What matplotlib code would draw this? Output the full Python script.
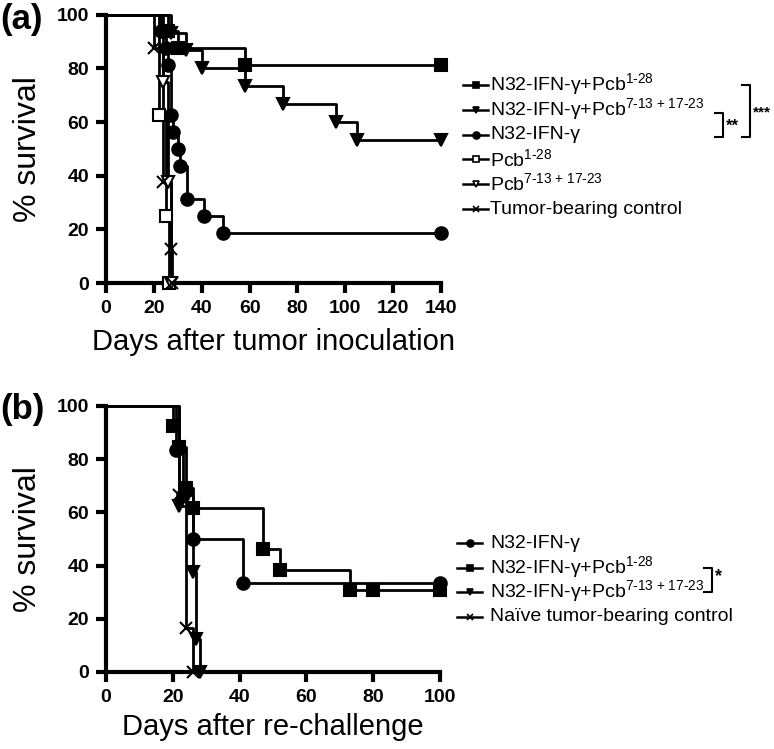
import numpy as np
import matplotlib.pyplot as plt
from matplotlib.lines import Line2D

plt.rcParams['font.family'] = ['Liberation Sans', 'DejaVu Sans']
plt.rcParams['mathtext.fontset'] = 'custom'
plt.rcParams['mathtext.rm'] = 'Liberation Sans'
plt.rcParams['mathtext.bf'] = 'Liberation Sans:bold'

W, H = 774, 749

# =================================
# Panel (a) data: days after tumor inoculation vs % survival
# =================================
a_labels = ["N32-IFN-\u03b3+Pcb$^{\\text{1-28}}$",
            "N32-IFN-\u03b3+Pcb$^{\\text{7-13 + 17-23}}$",
            "N32-IFN-\u03b3",
            "Pcb$^{\\text{1-28}}$",
            "Pcb$^{\\text{7-13 + 17-23}}$",
            "Tumor-bearing control"]
a_sq_t = [0, 26, 30, 58, 140]
a_sq_s = [100, 93.75, 87.5, 81.25, 81.25]
a_tri_t = [0, 27, 33.5, 40, 58, 74, 96, 105, 140]
a_tri_s = [100, 93.3, 86.7, 80, 73.3, 66.7, 60, 53.3, 53.3]
a_ci_t = [0, 23, 25, 26, 27, 28, 30, 31, 34, 41, 49, 140]
a_ci_s = [100, 93.75, 87.5, 81.25, 62.5, 56.25, 50, 43.75, 31.25, 25, 18.75, 18.75]
a_osq_t = [0, 22, 25, 26.5]
a_osq_s = [100, 62.5, 25, 0]
a_otri_t = [0, 24, 26, 27]
a_otri_s = [100, 75, 37.5, 0]
a_x_t = [0, 20, 24, 27, 27.5]
a_x_s = [100, 87.5, 37.5, 12.5, 0]

# =================================
# Panel (b) data: days after re-challenge vs % survival
# =================================
b_labels = ["N32-IFN-\u03b3",
            "N32-IFN-\u03b3+Pcb$^{\\text{1-28}}$",
            "N32-IFN-\u03b3+Pcb$^{\\text{7-13 + 17-23}}$",
            "Na\u00efve tumor-bearing control"]
b_ci_t = [0, 21, 23, 26, 41, 100]
b_ci_s = [100, 83.3, 66.7, 50, 33.3, 33.3]
b_sq_t = [0, 20, 22, 24, 26, 47, 52, 73, 80, 100]
b_sq_s = [100, 92.3, 84.6, 69.2, 61.5, 46.2, 38.5, 30.8, 30.8, 30.8]
b_tri_t = [0, 22, 26, 27, 28]
b_tri_s = [100, 62.5, 37.5, 12.5, 0]
b_x_t = [0, 22, 24, 26]
b_x_s = [100, 66.7, 16.7, 0]

# marker styles: (marker, filled)
a_styles = [('s', True), ('v', True), ('o', True), ('s', False), ('v', False), ('x', True)]
b_styles = [('o', True), ('s', True), ('v', True), ('x', True)]


def fx(px):
    return px / W


def fy(py):
    return 1 - py / H


def draw_curve(ax, t, s, marker, filled):
    """Kaplan-Meier style step curve with a symbol at each step."""
    ax.step(t, s, where='post', color='black', lw=2, clip_on=False, zorder=3)
    ms = 9 if marker != 'x' else 8
    ax.plot(t[1:], s[1:], ls='none', marker=marker, ms=ms, mew=1.5,
            mfc='black' if filled else 'white', mec='black',
            clip_on=False, zorder=4)


def style_axes(ax, xmax, xstep):
    ax.set_xlim(0, xmax)
    ax.set_ylim(0, 100)
    ax.set_xticks(np.arange(0, xmax + 1, xstep))
    ax.set_yticks(np.arange(0, 101, 20))
    for side in ['top', 'right']:
        ax.spines[side].set_visible(False)
    for side in ['left', 'bottom']:
        ax.spines[side].set_linewidth(3)
    ax.tick_params(width=3, length=7, labelsize=14, pad=5)
    for lab in ax.get_xticklabels() + ax.get_yticklabels():
        lab.set_fontweight('bold')
    ax.set_ylabel('% survival', fontsize=23, labelpad=10)


def draw_legend(fig, x_line, x_text, y0, dy, labels, styles):
    for i, (lab, (m, filled)) in enumerate(zip(labels, styles)):
        y = y0 + i * dy
        fig.add_artist(Line2D([fx(x_line), fx(x_line + 25)], [fy(y), fy(y)],
                              color='black', lw=1.8))
        fig.add_artist(Line2D([fx(x_line + 12.5)], [fy(y)], marker=m, ms=5,
                              mfc='black' if filled else 'white', mec='black',
                              mew=1.2, ls='none'))
        fig.text(fx(x_text), fy(y), lab, fontsize=14, va='center', ha='left')


def bracket(fig, x, y1, y2, tick=8):
    fig.add_artist(Line2D([fx(x - tick), fx(x), fx(x), fx(x - tick)],
                          [fy(y1), fy(y1), fy(y2), fy(y2)], color='black', lw=1.5))


fig = plt.figure(figsize=(W / 100, H / 100), dpi=100)

# ---- panel (a)
ax1 = fig.add_axes([fx(106), fy(283), fx(441) - fx(106), fy(14.7) - fy(283)])
a_series = [(a_sq_t, a_sq_s), (a_tri_t, a_tri_s), (a_ci_t, a_ci_s),
            (a_osq_t, a_osq_s), (a_otri_t, a_otri_s), (a_x_t, a_x_s)]
for (t, s), (m, filled) in zip(a_series, a_styles):
    draw_curve(ax1, t, s, m, filled)
style_axes(ax1, 140, 20)
ax1.set_xlabel('Days after tumor inoculation', fontsize=21, labelpad=8)

draw_legend(fig, 463, 490, 85, 24.8, a_labels, a_styles)
bracket(fig, 723, 113, 137)
fig.text(fx(726), fy(126), '**', fontsize=12, fontweight='bold', va='center')
bracket(fig, 750, 85, 137)
fig.text(fx(753), fy(112), '***', fontsize=11, fontweight='bold', va='center')
fig.text(fx(0), fy(20), '(a)', fontsize=25, fontweight='bold', va='center')

# ---- panel (b)
ax2 = fig.add_axes([fx(106), fy(672), fx(440) - fx(106), fy(406) - fy(672)])
b_series = [(b_ci_t, b_ci_s), (b_sq_t, b_sq_s), (b_tri_t, b_tri_s), (b_x_t, b_x_s)]
for (t, s), (m, filled) in zip(b_series, b_styles):
    draw_curve(ax2, t, s, m, filled)
style_axes(ax2, 100, 20)
ax2.set_xlabel('Days after re-challenge', fontsize=21, labelpad=5)

draw_legend(fig, 457, 490, 543, 24.5, b_labels, b_styles)
bracket(fig, 712, 567.5, 592)
fig.text(fx(715), fy(577), '*', fontsize=13, fontweight='bold', va='center')
fig.text(fx(0), fy(410), '(b)', fontsize=25, fontweight='bold', va='center')

fig.savefig('out.png', dpi=100)
